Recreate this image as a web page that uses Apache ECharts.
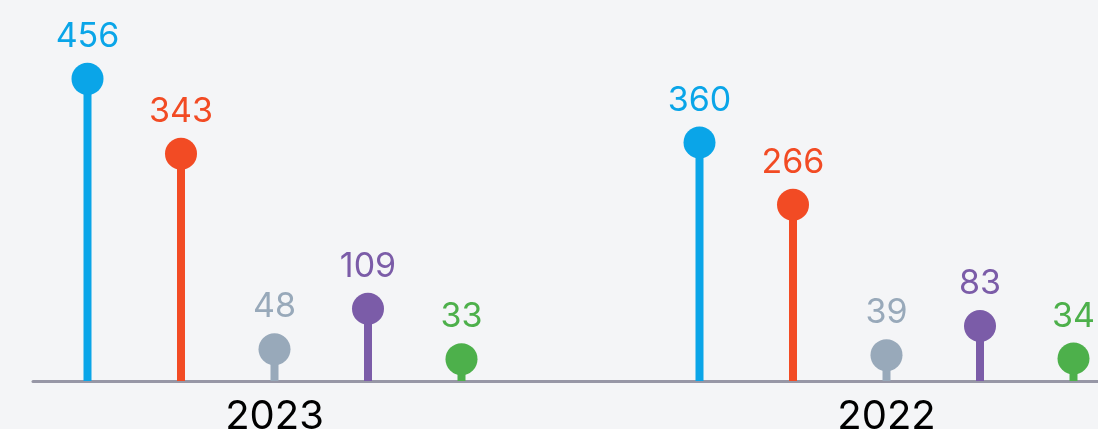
<!DOCTYPE html>
<html>
<head>
<meta charset="utf-8">
<script src="https://cdn.jsdelivr.net/npm/echarts@6/dist/echarts.min.js"></script>
<style>
  html, body { margin: 0; padding: 0; background: #F4F5F7; }
  #chart { width: 1098px; height: 429px; }
</style>
</head>
<body>
<div id="chart"></div>
<script>
const categories = ['2023', '2022'];
const seriesNames = ['Series 1', 'Series 2', 'Series 3', 'Series 4', 'Series 5'];
const series1 = [456, 360];
const series2 = [343, 266];
const series3 = [48, 39];
const series4 = [109, 83];
const series5 = [33, 34];

const allSeries = [series1, series2, series3, series4, series5];
const colors = ['#0AA5E8', '#F24B24', '#98A9BA', '#7B5CA8', '#4DB04B'];
const OFFSET_FRAC = 93.5 / 612;
const FONT = 'Inter, "Noto Sans", sans-serif';

const chart = echarts.init(document.getElementById('chart'), null, { renderer: 'canvas' });

function makeRender(k) {
  return function (params, api) {
    const cat = api.value(0);
    const val = api.value(1);
    const top = api.coord([cat, val]);
    const base = api.coord([cat, 0]);
    const band = api.size([1, 0])[0];
    const x = top[0] + (k - 2) * band * OFFSET_FRAC;
    const color = colors[k];
    return {
      type: 'group',
      children: [
        { type: 'rect', shape: { x: x - 4, y: top[1], width: 8, height: base[1] - top[1] }, style: { fill: color } },
        { type: 'circle', shape: { cx: x, cy: top[1], r: 16 }, style: { fill: color } },
        { type: 'text', x: x, y: top[1] - 42, style: { text: String(val), fill: color, font: '34px ' + FONT, align: 'center', verticalAlign: 'middle' } }
      ]
    };
  };
}

const option = {
  backgroundColor: '#F4F5F7',
  animation: false,
  grid: [
    { left: -31.5, width: 1224, top: 0, bottom: 48, outerBoundsMode: 'none', containLabel: false },
    { left: 33, right: 0, top: 0, bottom: 48, outerBoundsMode: 'none', containLabel: false }
  ],
  xAxis: [
    {
      type: 'category', gridIndex: 0, data: categories,
      axisLine: { show: false }, axisTick: { show: false },
      axisLabel: { color: '#000000', fontSize: 40, fontFamily: FONT, margin: 16 }
    },
    {
      type: 'value', gridIndex: 1, min: 0, max: 1,
      axisLine: { show: true, lineStyle: { color: '#9797A6', width: 3 } },
      axisTick: { show: false }, axisLabel: { show: false }, splitLine: { show: false }
    }
  ],
  yAxis: [
    { type: 'value', gridIndex: 0, min: 0, max: 575, show: false },
    { type: 'value', gridIndex: 1, min: 0, max: 1, show: false }
  ],
  series: allSeries.map((arr, k) => ({
    name: seriesNames[k],
    type: 'custom',
    xAxisIndex: 0, yAxisIndex: 0,
    renderItem: makeRender(k),
    data: arr.map((v, i) => [i, v]),
    z: 1
  }))
};
chart.setOption(option);
</script>
</body>
</html>
